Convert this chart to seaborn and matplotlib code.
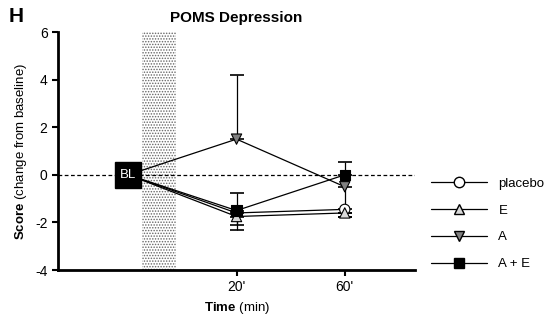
import numpy as np
import pandas as pd
import matplotlib
matplotlib.use("Agg")
import matplotlib.pyplot as plt
from matplotlib.lines import Line2D
import seaborn as sns

# data
groups = ["placebo", "E", "A", "A + E"]
time_min = [-20, 20, 60]          # baseline (BL) drawn at -20
placebo = [0, -1.6, -1.45]
e_vals = [0, -1.75, -1.6]
a_vals = [0, 1.5, -0.5]
ae_vals = [0, -1.5, 0.0]
err_lo = {"placebo": [0, 0.5, 0.3], "E": [0, 0.55, 0.15],
          "A": [0, 0, 1.1], "A + E": [0, 0, 0]}
err_hi = {"placebo": [0, 0, 0], "E": [0, 0, 0],
          "A": [0, 2.7, 0], "A + E": [0, 0.75, 0.55]}
xtick_pos = [20, 60]
xtick_lab = ["20'", "60'"]

face = {"placebo": "white", "E": "#d9d9d9", "A": "#808080", "A + E": "black"}
mk = {"placebo": "o", "E": "^", "A": "v", "A + E": "s"}

rows = []
for g, vals in zip(groups, [placebo, e_vals, a_vals, ae_vals]):
    for t, v in zip(time_min, vals):
        rows.append({"group": g, "time": t, "score": v})
df = pd.DataFrame(rows)

sns.set_style("ticks")
plt.rcParams["font.family"] = ["Liberation Sans", "DejaVu Sans"]
plt.rcParams["mathtext.fontset"] = "custom"
plt.rcParams["mathtext.bf"] = "Liberation Sans:bold"
plt.rcParams["mathtext.rm"] = "Liberation Sans"
plt.rcParams["axes.unicode_minus"] = False
plt.rcParams["text.color"] = "black"
plt.rcParams["axes.labelcolor"] = "black"
plt.rcParams["xtick.color"] = "black"
plt.rcParams["ytick.color"] = "black"
plt.rcParams["axes.edgecolor"] = "black"
plt.rcParams["hatch.linewidth"] = 0.7
plt.rcParams["hatch.color"] = "#555555"

fig = plt.figure(figsize=(5.52, 3.2), dpi=100)
ax = fig.add_axes([0.105, 0.156, 0.647, 0.744])

# drug window
ax.axvspan(-15, -2.5, facecolor="white", edgecolor="#666666", hatch="......",
           linewidth=0, zorder=0)
ax.axhline(0, color="black", linestyle=(0, (3, 2)), linewidth=0.9, zorder=1)

sns.lineplot(data=df, x="time", y="score", hue="group", palette=["black"] * 4,
             legend=False, linewidth=0.9, ax=ax, zorder=2)

for g in groups:
    sub = df[(df.group == g) & (df.time > time_min[0])]
    lo = err_lo[g][1:]
    hi = err_hi[g][1:]
    ax.errorbar(sub.time, sub.score, yerr=[lo, hi], fmt="none",
                ecolor="black", elinewidth=0.9, capsize=5, capthick=1.2, zorder=3)

sub = df[df.time > time_min[0]]
sns.scatterplot(data=sub, x="time", y="score", hue="group", style="group",
                palette=face, markers=mk, s=55, edgecolor="black", linewidth=0.8,
                legend=False, ax=ax, zorder=4)

# baseline box
ax.plot([time_min[0]], [0], marker="s", markersize=19, color="black", zorder=5)
ax.text(time_min[0], 0, "BL", color="white", ha="center", va="center",
        fontsize=9.5, zorder=6)

ax.set_xlim(-46, 86)
ax.set_ylim(-4, 6)
ax.set_yticks([-4, -2, 0, 2, 4, 6])
ax.set_xticks(xtick_pos)
ax.set_xticklabels(xtick_lab)
ax.tick_params(labelsize=10, width=1.5, length=4)
for s in ["top", "right"]:
    ax.spines[s].set_visible(False)
for s in ["left", "bottom"]:
    ax.spines[s].set_linewidth(2)
ax.set_xlabel(r"$\bf{Time}$ (min)", fontsize=9.5)
ax.set_ylabel(r"$\bf{Score}$ (change from baseline)", fontsize=9.5)
ax.set_title("POMS Depression", fontsize=11, fontweight="bold", pad=7)
fig.text(0.015, 0.93, "H", fontsize=15, fontweight="bold")

handles = [Line2D([0], [0], color="black", linewidth=0.9, marker=mk[g],
                  markersize=7.5, markerfacecolor=face[g], markeredgecolor="black")
           for g in groups]
ax.legend(handles, groups, loc="upper left", bbox_to_anchor=(1.03, 0.41),
          frameon=False, handlelength=4.2, handletextpad=0.9, fontsize=9.5,
          labelspacing=1.1, numpoints=1, borderaxespad=0)

fig.savefig("out.png", dpi=100)
